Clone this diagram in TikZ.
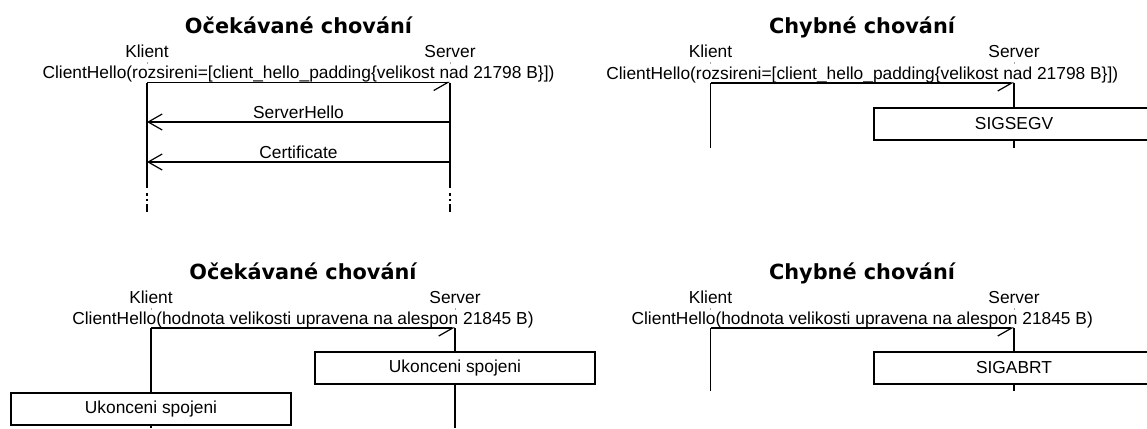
\documentclass[tikz,border=0pt]{standalone}
\usepackage{fontspec}
\setmainfont{Liberation Sans}
\newfontfamily\headfont{DejaVu Sans}
\usetikzlibrary{arrows.meta}
\tikzset{
  lbl/.style={font=\fontsize{17.36}{20}\selectfont, inner sep=0pt, anchor=base},
  ttl/.style={font=\headfont\bfseries\fontsize{20.83}{24}\selectfont, inner sep=0pt, anchor=base},
  life/.style={line width=1.2pt},
  msg/.style={line width=1.2pt, -{Straight Barb[length=14pt,width=16pt,line width=1.2pt]}},
  call/.style={line width=1.2pt, -{Straight Barb[length=14pt,width=16pt,line width=1.2pt,right]}},
  evbox/.style={draw, line width=1.2pt, fill=white, minimum width=280pt, minimum height=32pt,
    inner sep=0pt, font=\fontsize{17.36}{20}\selectfont},
  tick/.style={draw=black!35, line width=1pt},
  msglabel/.style={lbl, midway, yshift=3.5pt},
}
\begin{document}
\begin{tikzpicture}[x=1pt,y=-1pt]
\useasboundingbox (0,0) rectangle (1147,428);
\clip (0,0) rectangle (1147,428);

% ---------- top left: expected behaviour, padding extension ----------
\node[ttl] (t1) at (298.5,34) {Očekávané chování};
\node[lbl] (k1) at (147,57.5) {Klient};
\node[lbl] (s1) at (450,57.5) {Server};
\draw[tick] (147,62) -- (147,64);
\draw[tick] (450,62) -- (450,64);
\coordinate (k1a) at (147,82.5);  \coordinate (s1a) at (450,82.5);
\coordinate (k1b) at (147,122);   \coordinate (s1b) at (450,122);
\coordinate (k1c) at (147,162);   \coordinate (s1c) at (450,162);
\coordinate (k1e) at (147,188);   \coordinate (s1e) at (450,188);
\draw[life] (k1a) -- (k1e);
\draw[life] (s1a) -- (s1e);
\foreach \x in {147,450}{
  \draw[life] (\x,193) -- (\x,196);
  \draw[life] (\x,199) -- (\x,201);
  \draw[life] (\x,204) -- (\x,212);
}
\draw[call] (k1a) -- node[msglabel, yshift=0.5pt] {ClientHello(rozsireni=[client\_hello\_padding\{velikost nad 21798 B\}])} (s1a);
\draw[msg] (s1b) -- node[msglabel] {ServerHello} (k1b);
\draw[msg] (s1c) -- node[msglabel] {Certificate} (k1c);

% ---------- top right: faulty behaviour, padding extension ----------
\node[ttl] (t2) at (862,34) {Chybné chování};
\node[lbl] (k2) at (710.5,57.5) {Klient};
\node[lbl] (s2) at (1014,57.5) {Server};
\draw[tick] (710.5,62) -- (710.5,64);
\draw[tick] (1014,62) -- (1014,64);
\coordinate (k2a) at (710.5,83);  \coordinate (s2a) at (1014,83);
\coordinate (k2e) at (710.5,148); \coordinate (s2e) at (1014,148);
\draw[life] (k2a) -- (k2e);
\node[evbox] (b2) at (1014,124) {SIGSEGV};
\draw[life] (s2a) -- (b2.north);
\draw[life] (b2.south) -- (s2e);
\draw[call] (k2a) -- node[msglabel, yshift=0.5pt] {ClientHello(rozsireni=[client\_hello\_padding\{velikost nad 21798 B\}])} (s2a);

% ---------- bottom left: expected behaviour, length field ----------
\node[ttl] (t3) at (303,279.5) {Očekávané chování};
\node[lbl] (k3) at (151,303.5) {Klient};
\node[lbl] (s3) at (455,303.5) {Server};
\draw[tick] (151,308) -- (151,310);
\draw[tick] (455,308) -- (455,310);
\coordinate (k3a) at (151,328);  \coordinate (s3a) at (455,328);
\coordinate (k3e) at (151,428);  \coordinate (s3e) at (455,428);
\node[evbox] (b3s) at (455,368) {Ukonceni spojeni};
\node[evbox] (b3k) at (151,409) {Ukonceni spojeni};
\draw[life] (k3a) -- (b3k.north);
\draw[life] (b3k.south) -- (k3e);
\draw[life] (s3a) -- (b3s.north);
\draw[life] (b3s.south) -- (s3e);
\draw[call] (k3a) -- node[msglabel] {ClientHello(hodnota velikosti upravena na alespon 21845 B)} (s3a);

% ---------- bottom right: faulty behaviour, length field ----------
\node[ttl] (t4) at (862,279.5) {Chybné chování};
\node[lbl] (k4) at (710.5,303.5) {Klient};
\node[lbl] (s4) at (1014,303.5) {Server};
\draw[tick] (710.5,308) -- (710.5,310);
\draw[tick] (1014,308) -- (1014,310);
\coordinate (k4a) at (710.5,328); \coordinate (s4a) at (1014,328);
\coordinate (k4e) at (710.5,391); \coordinate (s4e) at (1014,391);
\draw[life] (k4a) -- (k4e);
\node[evbox] (b4) at (1014,368) {SIGABRT};
\draw[life] (s4a) -- (b4.north);
\draw[life] (b4.south) -- (s4e);
\draw[call] (k4a) -- node[msglabel] {ClientHello(hodnota velikosti upravena na alespon 21845 B)} (s4a);
\end{tikzpicture}
\end{document}
